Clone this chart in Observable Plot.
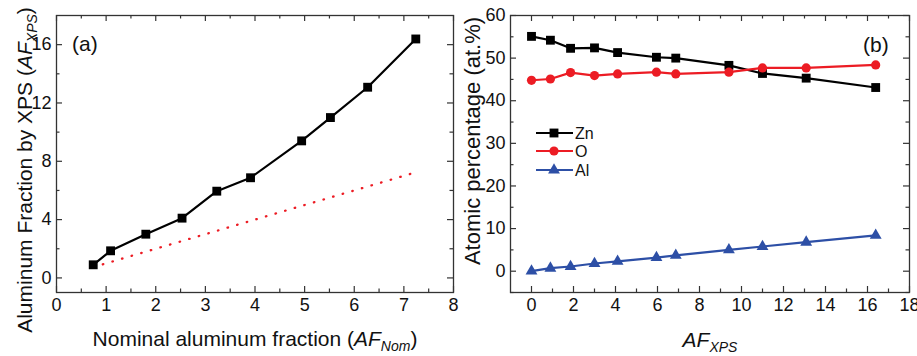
<!DOCTYPE html>
<html><head><meta charset="utf-8">
<script src="https://cdn.jsdelivr.net/npm/d3@7"></script>
<script src="https://cdn.jsdelivr.net/npm/@observablehq/plot@0.6"></script>
<style>
html,body{margin:0;padding:0;background:#fff;}
#wrap{position:relative;width:917px;height:356px;overflow:hidden;background:#fff;}
#wrap svg{position:absolute;top:0;overflow:visible;}
</style></head><body><div id="wrap"></div>
<script>
// ---- Panel (a) data ----
const nominalAF = [0.74, 1.09, 1.80, 2.53, 3.23, 3.91, 4.94, 5.52, 6.27, 7.24];
const xpsAF     = [0.90, 1.86, 3.00, 4.10, 5.95, 6.87, 9.40, 11.0, 13.08, 16.39];
const idealLine = [0.74, 7.24]; // AF_XPS = AF_Nom reference
const aXTicks = [0, 1, 2, 3, 4, 5, 6, 7, 8];
const aXMinor = [0.5, 1.5, 2.5, 3.5, 4.5, 5.5, 6.5, 7.5];
const aYTicks = [0, 4, 8, 12, 16];
const aYMinor = [2, 6, 10, 14];

// ---- Panel (b) data ----
const afXps = [0, 0.90, 1.86, 3.00, 4.10, 5.95, 6.87, 9.40, 11.0, 13.08, 16.39];
const zn = [55.1, 54.2, 52.3, 52.4, 51.3, 50.2, 50.0, 48.3, 46.4, 45.3, 43.1];
const ox = [44.8, 45.1, 46.6, 45.9, 46.3, 46.7, 46.3, 46.7, 47.7, 47.7, 48.4];
const al = [0.0, 0.7, 1.1, 1.8, 2.3, 3.2, 3.7, 5.0, 5.8, 6.8, 8.4];
const seriesNames = ["Zn", "O", "Al"];
const bXTicks = [0, 2, 4, 6, 8, 10, 12, 14, 16, 18];
const bXMinor = [1, 3, 5, 7, 9, 11, 13, 15, 17];
const bYTicks = [0, 10, 20, 30, 40, 50, 60];
const bYMinor = [-5, 5, 15, 25, 35, 45, 55];

const RED = "#ec1c24", BLUE = "#2d4fa6", BLACK = "#000";
const FONT = "'Liberation Sans', Arial, Helvetica, sans-serif";
const H = 356, MT = 15, MB = 64;

function frameTicks(xMaj, xMin, yMaj, yMin, pw, ph) {
  const L = 6, l = 3.5, o = {stroke: "#333", strokeWidth: 1.2};
  return [
    Plot.ruleX(xMaj, {x: d => d, insetTop: ph - L, ...o}),
    Plot.ruleX(xMaj, {x: d => d, insetBottom: ph - L, ...o}),
    Plot.ruleX(xMin, {x: d => d, insetTop: ph - l, ...o}),
    Plot.ruleX(xMin, {x: d => d, insetBottom: ph - l, ...o}),
    Plot.ruleY(yMaj, {y: d => d, insetRight: pw - L, ...o}),
    Plot.ruleY(yMaj, {y: d => d, insetLeft: pw - L, ...o}),
    Plot.ruleY(yMin, {y: d => d, insetRight: pw - l, ...o}),
    Plot.ruleY(yMin, {y: d => d, insetLeft: pw - l, ...o})
  ];
}

// ---- Panel (a) ----
const aTable = nominalAF.map((n, i) => ({nom: n, xps: xpsAF[i]}));
const WA = 458, MLA = 56, MRA = 5;
const plotA = Plot.plot({
  width: WA, height: H, marginLeft: MLA, marginRight: MRA, marginTop: MT, marginBottom: MB,
  x: {domain: [0, 8]}, y: {domain: [-1, 18]},
  style: {fontFamily: FONT, fontSize: "18px", color: "#111", background: "transparent"},
  marks: [
    ...frameTicks(aXTicks, aXMinor, aYTicks, aYMinor, WA - MLA - MRA, H - MT - MB),
    Plot.frame({stroke: "#333", strokeWidth: 1.3}),
    Plot.axisX({ticks: aXTicks, tickSize: 0, tickPadding: 6, label: null}),
    Plot.axisY({ticks: aYTicks, tickSize: 0, tickPadding: 5, label: null}),
    Plot.line(idealLine, {x: d => d, y: d => d, stroke: RED, strokeWidth: 2.3, strokeDasharray: "0.5,9.5", strokeLinecap: "round"}),
    Plot.line(aTable, {x: "nom", y: "xps", stroke: BLACK, strokeWidth: 2.2}),
    Plot.dot(aTable, {x: "nom", y: "xps", symbol: "square", fill: BLACK, r: 5})
  ]
});
plotA.style.left = "0px";

// ---- Panel (b) ----
const bTable = [];
afXps.forEach((x, i) => {
  bTable.push({x, v: zn[i], s: "Zn"});
  bTable.push({x, v: ox[i], s: "O"});
  bTable.push({x, v: al[i], s: "Al"});
});
const colorOf = {Zn: BLACK, O: RED, Al: BLUE};
const symOf = {Zn: "square", O: "circle", Al: "triangle"};
const rOf = {Zn: 5, O: 4.6, Al: 4.4};
const WB = 459, MLB = 52, MRB = 8;
const plotB = Plot.plot({
  width: WB, height: H, marginLeft: MLB, marginRight: MRB, marginTop: MT, marginBottom: MB,
  x: {domain: [-1, 18]}, y: {domain: [-5, 60]},
  style: {fontFamily: FONT, fontSize: "18px", color: "#111", background: "transparent"},
  marks: [
    ...frameTicks(bXTicks, bXMinor, bYTicks, bYMinor, WB - MLB - MRB, H - MT - MB),
    Plot.frame({stroke: "#333", strokeWidth: 1.3}),
    Plot.axisX({ticks: bXTicks, tickSize: 0, tickPadding: 6, label: null}),
    Plot.axisY({ticks: bYTicks, tickSize: 0, tickPadding: 5, label: null}),
    ...seriesNames.flatMap(s => [
      Plot.line(bTable.filter(d => d.s === s), {x: "x", y: "v", stroke: colorOf[s], strokeWidth: 2.2}),
      Plot.dot(bTable.filter(d => d.s === s), {x: "x", y: "v", symbol: symOf[s], fill: colorOf[s], r: rOf[s]})
    ])
  ]
});
plotB.style.left = WA + "px";

const wrap = document.getElementById("wrap");
wrap.appendChild(plotA);
wrap.appendChild(plotB);

// ---- Titles & annotations ----
function subTitle(sel, parts) {
  parts.forEach(p => {
    const t = sel.append("tspan").text(p.t);
    if (p.i) t.attr("font-style", "italic");
    if (p.fs) t.attr("font-size", p.fs);
    if (p.dy) t.attr("dy", p.dy);
  });
}
const sA = d3.select(plotA), sB = d3.select(plotB);

sA.append("text").attr("transform", "translate(32,170) rotate(-90)").attr("text-anchor", "middle")
  .attr("font-size", 21).attr("fill", "#111")
  .call(t => subTitle(t, [{t: "Aluminum Fraction by XPS ("}, {t: "AF", i: true}, {t: "XPS", i: true, fs: 14, dy: 5}, {t: ")", dy: -5}]));
sA.append("text").attr("x", 255).attr("y", 346).attr("text-anchor", "middle")
  .attr("font-size", 21).attr("fill", "#111")
  .call(t => subTitle(t, [{t: "Nominal aluminum fraction ("}, {t: "AF", i: true}, {t: "Nom", i: true, fs: 14, dy: 5}, {t: ")", dy: -5}]));
sA.append("text").attr("x", 72).attr("y", 51).attr("text-anchor", "start")
  .attr("font-size", 21).attr("fill", "#111").text("(a)");

sB.append("text").attr("transform", "translate(22,141) rotate(-90)").attr("text-anchor", "middle")
  .attr("font-size", 22).attr("fill", "#111").text("Atomic percentage (at.%)");
sB.append("text").attr("x", 252).attr("y", 347).attr("text-anchor", "middle")
  .attr("font-size", 21).attr("fill", "#111")
  .call(t => subTitle(t, [{t: "AF", i: true}, {t: "XPS", i: true, fs: 14, dy: 5}]));
sB.append("text").attr("x", 405).attr("y", 52).attr("text-anchor", "start")
  .attr("font-size", 21).attr("fill", "#111").text("(b)");

// legend
const leg = sB.append("g");
const symGen = {square: d3.symbolSquare, circle: d3.symbolCircle, triangle: d3.symbolTriangle};
seriesNames.forEach((s, i) => {
  const cy = [133, 151, 170][i];
  leg.append("line").attr("x1", 78).attr("x2", 115).attr("y1", cy).attr("y2", cy)
    .attr("stroke", colorOf[s]).attr("stroke-width", 2.2);
  leg.append("path").attr("transform", `translate(96,${cy})`)
    .attr("d", d3.symbol(symGen[symOf[s]], Math.PI * rOf[s] * rOf[s])())
    .attr("fill", colorOf[s]);
  leg.append("text").attr("x", 117).attr("y", cy + 5.5).attr("text-anchor", "start")
    .attr("font-size", 16).attr("fill", "#111").text(s);
});
</script></body></html>
